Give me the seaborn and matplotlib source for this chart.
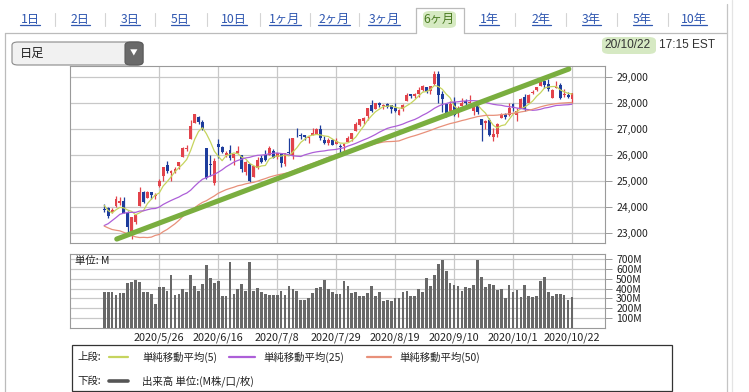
import numpy as np
import pandas as pd
import matplotlib
matplotlib.use("Agg")
import matplotlib.pyplot as plt
import seaborn as sns
from matplotlib.patches import Rectangle, FancyBboxPatch
from matplotlib.lines import Line2D

sns.set_theme(style="white")
plt.rcParams['font.family'] = ['Noto Sans CJK JP', 'DejaVu Sans']

# ---------------- data ----------------
us_holidays = ['2020-05-25', '2020-07-03', '2020-09-07']
dates = pd.bdate_range('2020-05-05', '2020-10-22', freq='C', holidays=us_holidays)

open_ = [
    23919, 23952, 23800, 24042, 24179, 24250, 23769, 23049, 23449, 24051,
    24593, 24343, 24575, 24411, 24800, 25200, 25600, 25302, 25342, 25582,
    25923, 26226, 26622, 27232, 27447, 27251, 26282, 25659, 24942, 26406,
    26319, 26002, 26200, 25901, 26083, 26017, 25347, 25651, 25152, 25512,
    25880, 25989, 25996, 26145, 25929, 26045, 25670, 26115, 25960, 26887,
    26780, 26765, 26659, 26777, 26820, 26987, 26567, 26444, 26580, 26414,
    26357, 26341, 26494, 26617, 26904, 27160, 27293, 27476, 27898, 27763,
    27979, 27859, 27967, 27912, 27802, 27548, 27758, 28057, 28320, 28279,
    28350, 28483, 28600, 28439, 28721, 29110, 28341, 27946, 27687, 28042,
    27606, 27865, 28064, 28004, 27696, 27903, 27364, 27221, 27355, 26694,
    26800, 27419, 27585, 27514, 27939, 27536, 27800, 28214, 27974, 28375,
    28488, 28656, 28849, 28732, 28199, 28574, 28679, 28300, 28296, 28150,
]
high = [
    24118, 24000, 23977, 24410, 24405, 24388, 23842, 23627, 23693, 24765,
    24610, 24606, 24600, 24542, 25085, 25548, 25762, 25423, 25554, 25744,
    26298, 26392, 27338, 27580, 27513, 27354, 26282, 26000, 25872, 26611,
    26332, 26144, 26400, 26027, 26327, 26017, 25755, 25651, 25596, 25905,
    26001, 26204, 26326, 26224, 26067, 26045, 26075, 26634, 26658, 27027,
    26829, 26772, 26724, 27019, 27019, 27132, 26716, 26655, 26610, 26654,
    26416, 26441, 26717, 26829, 27255, 27387, 27454, 27794, 28093, 27999,
    28044, 27946, 27975, 27922, 27980, 27749, 27961, 28364, 28352, 28359,
    28593, 28665, 28615, 28660, 29200, 29200, 28433, 27946, 28050, 28225,
    27876, 28178, 28145, 28287, 27970, 27906, 27364, 27329, 27421, 27018,
    27208, 27600, 27593, 27997, 27989, 27819, 28170, 28355, 28341, 28473,
    28608, 28958, 28883, 28896, 28541, 28819, 28745, 28536, 28418, 28389,
]
low = [
    23822, 23600, 23760, 24017, 24070, 23760, 22972, 22790, 23355, 24051,
    24178, 24343, 24319, 24309, 24760, 25000, 25315, 25012, 25316, 25462,
    25923, 26136, 26622, 27232, 27188, 26950, 25082, 25185, 24843, 25874,
    26084, 25921, 25805, 25620, 26064, 25342, 25219, 24971, 25152, 25477,
    25692, 25779, 25996, 25878, 25847, 25524, 25566, 26050, 25837, 26685,
    26597, 26591, 26457, 26765, 26796, 26560, 26411, 26385, 26373, 26412,
    26058, 26086, 26485, 26524, 26904, 27121, 27188, 27346, 27654, 27763,
    27824, 27767, 27788, 27598, 27635, 27519, 27695, 28057, 28184, 28180,
    28232, 28436, 28389, 28319, 28698, 28000, 27664, 27469, 27687, 27489,
    27457, 27865, 27871, 27996, 27546, 27568, 26537, 27012, 26737, 26537,
    26676, 27412, 27396, 27501, 27685, 27321, 27800, 27698, 27974, 28328,
    28435, 28656, 28557, 28450, 28199, 28574, 28131, 28231, 28196, 28010,
]
close = [
    23883, 23664, 23876, 24331, 24222, 23765, 23248, 23625, 23685, 24597,
    24207, 24576, 24474, 24465, 24995, 25548, 25401, 25383, 25475, 25743,
    26270, 26282, 27111, 27572, 27272, 26990, 25128, 25606, 25763, 26290,
    26120, 26080, 25871, 26025, 26156, 25446, 25746, 25016, 25596, 25813,
    25735, 25827, 26287, 25890, 26067, 25706, 26075, 26086, 26643, 26870,
    26735, 26672, 26681, 26840, 27006, 26652, 26470, 26585, 26379, 26540,
    26314, 26428, 26664, 26828, 27202, 27387, 27433, 27791, 27687, 27977,
    27897, 27931, 27845, 27778, 27693, 27740, 27930, 28308, 28248, 28332,
    28492, 28654, 28430, 28646, 29100, 28293, 28133, 27501, 27940, 27535,
    27666, 27993, 27996, 28032, 27902, 27657, 27148, 27288, 26763, 26815,
    27174, 27584, 27453, 27782, 27817, 27683, 28149, 27773, 28303, 28426,
    28587, 28838, 28680, 28514, 28494, 28606, 28195, 28309, 28211, 28364,
]
# closes before the window (2020-02-24 .. 2020-05-04), used by the moving averages
prior_close = [
    27961, 27081, 26958, 25767, 25409, 26703, 25917, 27091, 26121, 25865,
    23851, 25018, 23553, 21201, 23186, 20189, 21237, 19899, 20087, 19174,
    18592, 20705, 21201, 22552, 21637, 22327, 21917, 20944, 21413, 21053,
    22680, 22654, 23434, 23719, 23391, 23950, 23504, 23538, 24242, 23650,
    23019, 23476, 23515, 23775, 24134, 24102, 24634, 24346, 23724, 23750,
]
volume = [  # M shares
    367, 367, 367, 333, 350, 357, 460, 470, 487, 470,
    367, 367, 340, 243, 413, 413, 370, 537, 333, 347,
    393, 367, 537, 427, 377, 443, 637, 507, 453, 480,
    320, 320, 667, 347, 393, 443, 373, 667, 373, 407,
    367, 340, 333, 333, 333, 373, 333, 427, 393, 373,
    283, 287, 300, 357, 407, 417, 487, 393, 360, 347,
    347, 480, 430, 350, 360, 320, 320, 357, 423, 327,
    360, 273, 283, 273, 300, 300, 367, 373, 327, 320,
    393, 367, 510, 427, 537, 650, 687, 573, 453, 440,
    423, 373, 417, 407, 433, 687, 517, 413, 450, 440,
    387, 393, 300, 440, 367, 387, 310, 433, 320, 310,
    320, 480, 517, 360, 320, 347, 347, 337, 287, 310,
]
tick_dates = ['2020-05-26', '2020-06-16', '2020-07-08', '2020-07-29',
              '2020-08-19', '2020-09-10', '2020-10-01', '2020-10-22']
tick_labels = ['2020/5/26', '2020/6/16', '2020/7/8', '2020/7/29',
               '2020/8/19', '2020/9/10', '2020/10/1', '2020/10/22']
price_ticks = [23000, 24000, 25000, 26000, 27000, 28000, 29000]
vol_ticks = [100, 200, 300, 400, 500, 600, 700]
ma_periods = [5, 25, 50]
ma_colors = ['#c6d45e', '#ad5fd8', '#e8907a']
# hand-drawn trend line (index, price)
trend_x = [3.2, 118.2]
trend_y = [22780, 29295]
tabs = ['1日', '2日', '3日', '5日', '10日', '1ヶ月', '2ヶ月', '3ヶ月', '6ヶ月',
        '1年', '2年', '3年', '5年', '10年']
tab_x = [30, 80, 130, 180, 234, 285, 334, 384, 439, 489, 541, 591, 642, 694]

# ---------------- figure ----------------
W, H = 749, 392
fig = plt.figure(figsize=(W / 100, H / 100), dpi=100)
fig.patch.set_facecolor('white')

def fx(x):
    return x / W

def fy(y):
    return 1 - y / H

UP, DOWN = '#e2434b', '#1d3c9c'
GRID = '#c8c8c8'
SPINE = '#9a9a9a'

n = len(close)
x = np.arange(n)
tick_pos = [list(dates.strftime('%Y-%m-%d')).index(d) for d in tick_dates]
xlim = (-8.7, 127.4)

# ---- price panel ----
ax = fig.add_axes([fx(70), fy(243), fx(605) - fx(70), (243 - 66) / H])
o = np.array(open_); c = np.array(close); h = np.array(high); l = np.array(low)
cols = [UP if cc >= oo else DOWN for oo, cc in zip(o, c)]
ax.vlines(x, l, h, colors=cols, linewidth=0.9, zorder=3)
body_bottom = np.minimum(o, c)
body_h = np.maximum(np.abs(c - o), 20)
ax.bar(x, body_h, bottom=body_bottom, width=0.74, color=cols, linewidth=0, zorder=4)

full = pd.Series(prior_close + close, dtype=float)
for p, col in zip(ma_periods, ma_colors):
    ma = full.rolling(p).mean().to_numpy()[-n:]
    sns.lineplot(x=x, y=ma, color=col, linewidth=0.9, ax=ax, zorder=5)

sns.lineplot(x=trend_x, y=trend_y, color='#7aae3f', linewidth=3.7, ax=ax, zorder=6,
             solid_capstyle='round')

ax.set_xlim(*xlim)
ax.set_ylim(22628, 29410)
ax.set_xticks(tick_pos)
ax.set_xticklabels([])
ax.set_yticks(price_ticks)
ax.set_yticklabels([f'{v:,}' for v in price_ticks], fontsize=7.5, color='#222')
ax.yaxis.tick_right()
ax.tick_params(axis='y', which='both', right=True, length=5, width=0.7, color=SPINE, pad=3)
ax.tick_params(axis='x', length=0)
ax.grid(True, color=GRID, linewidth=0.9)
ax.set_axisbelow(True)
ax.set_xlabel(''); ax.set_ylabel('')
for s in ax.spines.values():
    s.set_color(SPINE); s.set_linewidth(0.8)

# ---- volume panel ----
axv = fig.add_axes([fx(70), fy(328), fx(605) - fx(70), (328 - 254) / H])
sns.barplot(x=x, y=volume, native_scale=True, color='#686868', saturation=1,
            width=0.7, errorbar=None, linewidth=0, ax=axv, zorder=3)
axv.set_xlim(*xlim)
axv.set_ylim(0, 750)
axv.set_xticks(tick_pos)
axv.set_xticklabels(tick_labels, fontsize=7.8, color='#222')
axv.set_yticks(vol_ticks)
axv.set_yticklabels([f'{v}M' for v in vol_ticks], fontsize=7.5, color='#222')
axv.yaxis.tick_right()
axv.tick_params(axis='y', right=True, length=5, width=0.7, color=SPINE, pad=3)
axv.tick_params(axis='x', length=0, pad=3)
axv.grid(True, color=GRID, linewidth=0.9)
axv.set_axisbelow(True)
axv.set_xlabel(''); axv.set_ylabel('')
for s in axv.spines.values():
    s.set_color(SPINE); s.set_linewidth(0.8)
axv.text(0.01, 0.91, '単位: M', transform=axv.transAxes, fontsize=7.5, color='#222',
         va='center', ha='left', zorder=5)

# ---- top UI: tabs ----
def hline(x0, x1, y, color='#bbbbbb', lw=0.9):
    fig.add_artist(Line2D([fx(x0), fx(x1)], [fy(y), fy(y)], color=color, lw=lw,
                          transform=fig.transFigure))

def vline(xx, y0, y1, color='#bbbbbb', lw=0.9):
    fig.add_artist(Line2D([fx(xx), fx(xx)], [fy(y0), fy(y1)], color=color, lw=lw,
                          transform=fig.transFigure))

sel = tabs.index('6ヶ月')
hline(5, 416, 33); hline(464, 727, 33)
vline(416, 8, 33); vline(464, 8, 33); hline(416, 464, 8)
fig.add_artist(FancyBboxPatch((fx(423), fy(28)), fx(456) - fx(423), (28 - 11) / H,
                              boxstyle='round,pad=0.0,rounding_size=0.01',
                              transform=fig.transFigure, facecolor='#d6eac2',
                              edgecolor='none'))
tab_texts = []
for i, (t, tx) in enumerate(zip(tabs, tab_x)):
    color = '#4a7b22' if i == sel else '#2f57b0'
    tt = fig.text(fx(tx), fy(19), t, fontsize=8.8, color=color, ha='center', va='center')
    tab_texts.append(tt)
    if 0 < i and i != sel and i != sel + 1:
        sx = (tab_x[i - 1] + tx) / 2
        vline(sx, 13, 26, color='#d4d4d4', lw=0.8)

vline(5, 33, 392); vline(727, 4, 392, color='#c4c4c4'); vline(732, 0, 392, color='#e4e4e4')

# dropdown
fig.add_artist(FancyBboxPatch((fx(12), fy(65)), fx(143) - fx(12), 23 / H,
                              boxstyle='round,pad=0.0,rounding_size=0.008',
                              transform=fig.transFigure, facecolor='#f1f1f1',
                              edgecolor='#8a8a8a', lw=0.8))
fig.add_artist(FancyBboxPatch((fx(125), fy(65)), fx(143) - fx(125), 23 / H,
                              boxstyle='round,pad=0.0,rounding_size=0.008',
                              transform=fig.transFigure, facecolor='#6a6a6a',
                              edgecolor='#5a5a5a', lw=0.8))
fig.text(fx(20), fy(53.5), '日足', fontsize=8.8, color='#222', ha='left', va='center')
fig.text(fx(134), fy(53.5), '▼', fontsize=5.5, color='white', ha='center', va='center')

# timestamp
fig.add_artist(FancyBboxPatch((fx(602), fy(54)), fx(656) - fx(602), 17 / H,
                              boxstyle='round,pad=0.0,rounding_size=0.01',
                              transform=fig.transFigure, facecolor='#d6e9c3',
                              edgecolor='none'))
fig.text(fx(604), fy(45.5), '20/10/22', fontsize=8.6, color='#333', ha='left', va='center',
         family='Liberation Sans')
fig.text(fx(659), fy(45.5), '17:15 EST', fontsize=8.6, color='#333', ha='left', va='center',
         family='Liberation Sans')

# legend box
fig.add_artist(Rectangle((fx(72), fy(391)), fx(672) - fx(72), (391 - 345) / H,
                         transform=fig.transFigure, facecolor='white',
                         edgecolor='#333333', lw=0.9))
fig.text(fx(77), fy(357), '上段:', fontsize=7.5, color='#222', va='center')
leg_items = [(109, 128, 142, ma_colors[0], '単純移動平均(5)'),
             (229, 255, 263, ma_colors[1], '単純移動平均(25)'),
             (367, 391, 399, ma_colors[2], '単純移動平均(50)')]
for x0, x1, tx, col, lab in leg_items:
    hline(x0, x1, 357, color=col, lw=1.6)
    fig.text(fx(tx), fy(357), lab, fontsize=7.5, color='#222', va='center')
fig.text(fx(77), fy(381), '下段:', fontsize=7.5, color='#222', va='center')
hline(109, 128, 381, color='#555555', lw=2.6)
fig.text(fx(142), fy(381), '出来高 単位:(M株/口/枚)', fontsize=7.5, color='#222', va='center')

# underline tab links
fig.canvas.draw()
for i, tt in enumerate(tab_texts):
    if i == sel:
        continue
    bb = tt.get_window_extent()
    yy = (bb.y0 + 1.0) / H
    fig.add_artist(Line2D([bb.x0 / W, bb.x1 / W], [yy, yy],
                          color='#2f57b0', lw=0.9, transform=fig.transFigure))

fig.savefig('out.png', dpi=100, facecolor='white')
